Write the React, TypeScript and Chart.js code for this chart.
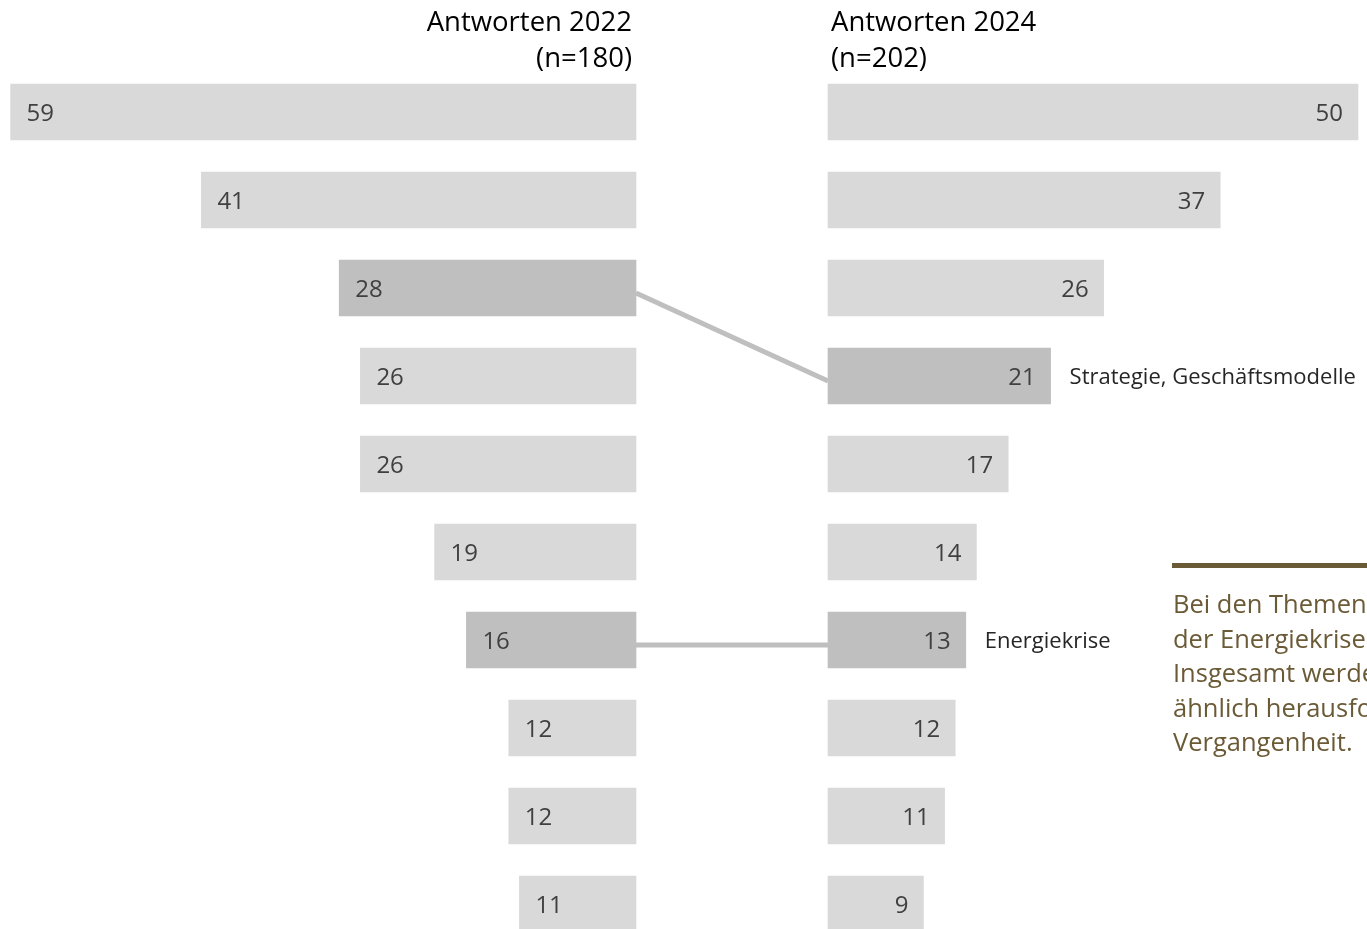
import React, { useEffect, useRef } from 'react';
import { Chart, registerables } from 'chart.js';

Chart.register(...registerables);

// ---- data ----
const ranks = ['1', '2', '3', '4', '5', '6', '7', '8', '9', '10'];
const values2022 = [59, 41, 28, 26, 26, 19, 16, 12, 12, 11];
const values2024 = [50, 37, 26, 21, 17, 14, 13, 12, 11, 9];
const highlight2022 = [2, 6];
const highlight2024 = [3, 6];
const linkFrom = [2, 6];
const linkTo = [3, 6];
const linkLabels = ['Strategie, Geschäftsmodelle', 'Energiekrise'];
const title2022 = ['Antworten 2022', '(n=180)'];
const title2024 = ['Antworten 2024', '(n=202)'];
const noteLines = [
  'Bei den Themen',
  'der Energiekrise',
  'Insgesamt werden',
  'ähnlich herausfordernd',
  'Vergangenheit.',
];

// ---- style ----
const FONT = '"Open Sans", "Noto Sans", sans-serif';
const LIGHT = '#d9d9d9';
const DARK = '#bfbfbf';
const LABEL_COLOR = '#404040';
const NOTE_COLOR = '#6b5a36';
const PX_PER_UNIT = 10.6;
const W = 1367;
const H = 948;
const ZERO_LEFT = 636;
const ZERO_RIGHT = 828;

const overlayPlugin = {
  id: 'overlay',
  beforeDatasetsDraw(chart: any) {
    const ctx = chart.ctx;
    const m0 = chart.getDatasetMeta(0);
    const m1 = chart.getDatasetMeta(1);
    ctx.save();
    ctx.strokeStyle = DARK;
    ctx.lineWidth = 5;
    ctx.lineCap = 'butt';
    linkFrom.forEach((f, k) => {
      const a = m0.data[f];
      const b = m1.data[linkTo[k]];
      ctx.beginPath();
      ctx.moveTo(a.base, a.y + 5);
      ctx.lineTo(b.base, b.y + 5);
      ctx.stroke();
    });
    ctx.restore();
  },
  afterDatasetsDraw(chart: any) {
    const ctx = chart.ctx;
    const m0 = chart.getDatasetMeta(0);
    const m1 = chart.getDatasetMeta(1);
    ctx.save();
    ctx.font = `24px ${FONT}`;
    ctx.fillStyle = LABEL_COLOR;
    ctx.textBaseline = 'middle';
    ctx.textAlign = 'left';
    m0.data.forEach((bar: any, i: number) => {
      ctx.fillText(String(values2022[i]), bar.x + 16, bar.y + 2);
    });
    ctx.textAlign = 'right';
    m1.data.forEach((bar: any, i: number) => {
      ctx.fillText(String(values2024[i]), bar.x - 15, bar.y + 2);
    });
    ctx.font = `22px ${FONT}`;
    ctx.fillStyle = '#262626';
    ctx.textAlign = 'left';
    linkTo.forEach((t, k) => {
      const b = m1.data[t];
      ctx.fillText(linkLabels[k], b.x + 19, b.y + 2);
    });
    ctx.restore();
  },
};

export default function App() {
  const ref = useRef<HTMLCanvasElement | null>(null);

  useEffect(() => {
    if (!ref.current) return;
    const chart = new Chart(ref.current, {
      type: 'bar',
      data: {
        labels: ranks,
        datasets: [
          {
            label: 'Antworten 2022',
            data: values2022,
            xAxisID: 'xL',
            yAxisID: 'y',
            backgroundColor: values2022.map((_, i) => (highlight2022.includes(i) ? DARK : LIGHT)),
            barThickness: 56,
            grouped: false,
            borderWidth: 0,
          } as any,
          {
            label: 'Antworten 2024',
            data: values2024,
            xAxisID: 'xR',
            yAxisID: 'y',
            backgroundColor: values2024.map((_, i) => (highlight2024.includes(i) ? DARK : LIGHT)),
            barThickness: 56,
            grouped: false,
            borderWidth: 0,
          } as any,
        ],
      },
      options: {
        indexAxis: 'y',
        animation: false,
        responsive: false,
        devicePixelRatio: 1,
        layout: { padding: { top: 68, left: 0, right: 0, bottom: 0 } },
        plugins: {
          legend: { display: false },
          tooltip: { enabled: false },
          title: { display: false },
        },
        scales: {
          xL: {
            type: 'linear',
            display: false,
            reverse: true,
            min: -(W - ZERO_LEFT) / PX_PER_UNIT,
            max: ZERO_LEFT / PX_PER_UNIT,
          },
          xR: {
            type: 'linear',
            display: false,
            min: -ZERO_RIGHT / PX_PER_UNIT,
            max: (W - ZERO_RIGHT) / PX_PER_UNIT,
          },
          y: {
            type: 'category',
            display: false,
            offset: true,
          },
        },
      } as any,
      plugins: [overlayPlugin],
    });
    return () => chart.destroy();
  }, []);

  const titleStyle: React.CSSProperties = {
    position: 'absolute',
    top: 3,
    fontFamily: FONT,
    fontSize: 27.5,
    lineHeight: '36px',
    color: '#000',
    whiteSpace: 'nowrap',
  };

  return (
    <div
      style={{
        position: 'absolute',
        left: 0,
        top: 0,
        width: W,
        height: 929,
        overflow: 'hidden',
        background: '#fff',
      }}
    >
      <canvas ref={ref} width={W} height={H} style={{ position: 'absolute', left: 0, top: 0, width: W, height: H }} />
      <div style={{ ...titleStyle, right: W - 632, textAlign: 'right' }}>
        {title2022.map((t) => (
          <div key={t}>{t}</div>
        ))}
      </div>
      <div style={{ ...titleStyle, left: 831, textAlign: 'left' }}>
        {title2024.map((t) => (
          <div key={t}>{t}</div>
        ))}
      </div>
      <div
        style={{
          position: 'absolute',
          left: 1172,
          top: 563,
          width: 400,
          height: 5,
          background: NOTE_COLOR,
        }}
      />
      <div
        style={{
          position: 'absolute',
          left: 1173,
          top: 586,
          fontFamily: FONT,
          fontSize: 25.5,
          lineHeight: '34.5px',
          color: NOTE_COLOR,
          whiteSpace: 'nowrap',
        }}
      >
        {noteLines.map((t) => (
          <div key={t}>{t}</div>
        ))}
      </div>
    </div>
  );
}
